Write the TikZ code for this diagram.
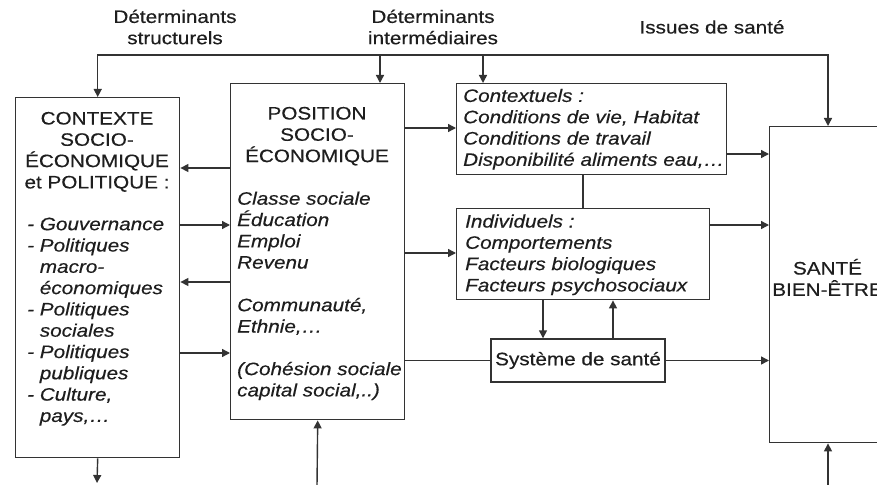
\documentclass[tikz,border=0pt]{standalone}
\usepackage{fontspec}
\setmainfont{Liberation Sans}[FakeStretch=1.15,FakeBold=0.4]
\usetikzlibrary{arrows.meta}
\definecolor{ink}{HTML}{1E1E1E}
\definecolor{lin}{HTML}{333333}
\newcommand{\fl}{\rule{0pt}{17pt}}
\newcommand{\ind}{\hphantom{-\ }}
\begin{document}
\begin{tikzpicture}[x=1pt,y=-1pt,
  box/.style={draw=lin, line width=1.4pt, anchor=north west, inner sep=0pt},
  txt/.style={inner sep=0pt, text=ink, font=\fontsize{18}{21.3}\selectfont},
  txti/.style={inner sep=0pt, text=ink, font=\fontsize{18}{21.3}\selectfont\itshape},
  arr/.style={draw=lin, line width=1.4pt, -{Triangle[length=8pt,width=8pt]}},
  ln/.style={draw=lin, line width=1.4pt},
]
\useasboundingbox (0,0) rectangle (877,484);
\clip (0,0) rectangle (877,484);
\fill[white] (0,0) rectangle (877,484);

% top labels
\node[txt, align=center, anchor=north] (lab1) at (175,5.7) {\fl Déterminants\\structurels};
\node[txt, align=center, anchor=north] (lab2) at (433,5.7) {\fl Déterminants\\intermédiaires};
\node[txt, anchor=north] (lab3) at (712,16.3) {\fl Issues de santé};

% boxes
\node[box, minimum width=164pt, minimum height=360pt] (ctx) at (15,97) {};
\node[box, minimum width=174pt, minimum height=336pt] (pos) at (230,83) {};
\node[box, minimum width=270pt, minimum height=91pt] (ctxt) at (456,83) {};
\node[box, minimum width=253pt, minimum height=91pt] (ind) at (456,208) {};
\node[draw=lin, line width=1.4pt, inner sep=0pt, minimum width=174pt, minimum height=43pt, text=ink, font=\fontsize{18}{21.3}\selectfont] (sys) at (578,360.5) {Système de santé};
\node[box, minimum width=120pt, minimum height=316pt] (sante) at (769,126) {};

% texts in boxes
\node[txt, align=center, anchor=north] (ctxh) at (97,107.3) {\fl CONTEXTE\\SOCIO-\\ÉCONOMIQUE\\et POLITIQUE :};
\node[txti, align=left, anchor=north west] (ctxl) at (27,213) {\fl - Gouvernance\\- Politiques\\\ind macro-\\\ind économiques\\- Politiques\\\ind sociales\\- Politiques\\\ind publiques\\- Culture,\\\ind pays,…};

\node[txt, align=center, anchor=north] (posh) at (317,102.3) {\fl POSITION\\SOCIO-\\ÉCONOMIQUE};
\node[txti, align=left, anchor=north west] (posl1) at (237,187.5) {\fl Classe sociale\\Éducation\\Emploi\\Revenu};
\node[txti, align=left, anchor=north west] (posl2) at (237,294) {\fl Communauté,\\Ethnie,…};
\node[txti, align=left, anchor=north west] (posl3) at (237,357.9) {\fl (Cohésion sociale\\capital social,..)};

\node[txti, align=left, anchor=north west] (ctxtl) at (463,84.7) {\fl Contextuels :\\Conditions de vie, Habitat\\Conditions de travail\\Disponibilité aliments eau,…};
\node[txti, align=left, anchor=north west] (indl) at (465,210.3) {\fl Individuels :\\Comportements\\Facteurs biologiques\\Facteurs psychosociaux};

\node[txt, align=center, anchor=north] (santel) at (827.5,257.3) {\fl SANTÉ\\BIEN-ÊTRE};

% top distribution line
\coordinate (t1) at (97,55);
\coordinate (t2) at (380,55);
\coordinate (t3) at (483,55);
\coordinate (t4) at (828,55);
\draw[ln] (t2) -- (t3);
\draw[arr] (t2) -| (ctx.north);
\draw[arr] (t2) -- (t2 |- pos.north);
\draw[arr] (t3) -- (t3 |- ctxt.north);
\draw[arr] (t3) -| (t4 |- sante.north);

% left <-> middle
\draw[arr] (pos.west |- 0,168) -- (ctx.east |- 0,168);
\draw[arr] (ctx.east |- 0,225) -- (pos.west |- 0,225);
\draw[arr] (pos.west |- 0,282) -- (ctx.east |- 0,282);
\draw[arr] (ctx.east |- 0,353) -- (pos.west |- 0,353);

% middle -> right
\draw[arr] (pos.east |- 0,128) -- (ctxt.west |- 0,128);
\draw[arr] (pos.east |- 0,253) -- (ind.west |- 0,253);
\draw[ln] (pos.east |- sys.west) -- (sys.west);
\draw[arr] (sys.east) -- (sante.west |- sys.east);
\draw[arr] (ctxt.east |- 0,154) -- (sante.west |- 0,154);
\draw[arr] (ind.east |- 0,225) -- (sante.west |- 0,225);
\draw[ln] (ctxt.south -| 583,0) -- (ind.north -| 583,0);
\draw[arr] (ind.south -| 543,0) -- (sys.north -| 543,0);
\draw[arr] (sys.north -| 613,0) -- (ind.south -| 613,0);

% bottom
\coordinate (b1) at (97,483);
\coordinate (b2) at (317,486);
\coordinate (b3) at (828,486);
\draw[arr] (ctx.south) -- (b1);
\draw[arr] (b2) -- (pos.south);
\draw[arr] (b3) -- (b3 |- sante.south);
\end{tikzpicture}
\end{document}
